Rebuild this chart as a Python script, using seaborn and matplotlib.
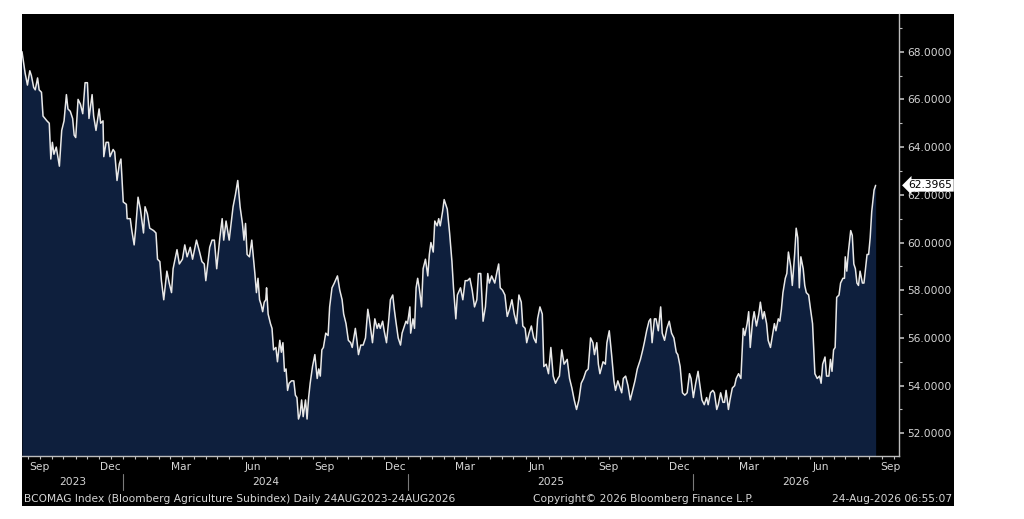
import numpy as np
import pandas as pd
import matplotlib
matplotlib.use("Agg")
import matplotlib.pyplot as plt
import seaborn as sns
from matplotlib.patches import Rectangle
from matplotlib.transforms import blended_transform_factory

# ---------------- data ----------------
start_date = "2023-08-24"
day_offsets = [
    0, 4, 7, 10, 12, 15, 17, 20, 22, 25, 27, 32, 35, 37, 39, 41, 44, 46, 48, 51, 54, 57, 59, 62, 65, 67, 69,
    72, 75, 78, 81, 84, 86, 90, 92, 95, 99, 101, 104, 105, 108, 111, 113, 117, 119, 122, 125, 127, 130, 134,
    135, 139, 141, 144, 146, 149, 152, 156, 158, 161, 164, 169, 172, 174, 177, 179, 182, 186, 189, 192, 194,
    199, 202, 206, 209, 212, 216, 219, 224, 228, 231, 234, 236, 241, 244, 247, 250, 254, 257, 259, 262, 266,
    271, 274, 277,
    280, 283, 285, 287, 289, 292, 295, 297, 299, 301, 303, 305, 307, 309, 311, 313, 314, 316, 319, 321, 323,
    326, 328, 331, 333, 335, 337, 339, 341, 343, 346, 349, 351, 353, 355, 357, 359, 361, 364, 366, 368, 370,
    373, 376, 379, 381, 383, 385, 387, 390, 393, 395, 398, 401, 405, 408, 411, 413, 416, 419, 422, 424, 428,
    430, 432, 435, 438, 441, 444, 446, 448, 450, 453, 456, 458, 460, 463, 465, 468, 471, 473, 476, 478, 480,
    483, 486, 488, 490, 493, 495, 498, 499, 502, 504, 506, 508, 510, 513, 515, 518, 521, 523, 525, 528, 530,
    533, 535, 537, 540, 542, 546, 549, 552, 554, 557, 559,
    563, 566, 569, 572, 575, 578, 581, 584, 586, 589, 592, 595, 598, 600, 603, 607, 610, 612, 614, 617, 620,
    623, 626, 629, 632, 635, 638, 641, 643, 646, 648, 651, 654, 657, 660, 662, 665, 668, 670, 673, 676, 679,
    682, 685, 688, 690, 693, 696, 700, 703, 706, 709, 712, 715, 718, 721, 724, 727, 730, 733, 735, 738, 740,
    742, 746, 749, 751, 754, 757, 760, 762, 765, 767, 770, 772, 775, 778, 781, 784, 787, 790, 794, 797, 799,
    802, 805, 807, 809, 812, 814, 817, 820, 822, 825, 828, 831, 834, 837, 840, 842, 845, 848, 851, 854, 857,
    859, 862, 865, 868, 870, 873, 876, 879, 881, 884, 887, 889, 892, 894, 897, 900, 902, 904, 907, 909, 912,
    915, 917, 920, 923, 926, 928, 931, 933, 935, 938, 940, 943, 946, 948, 951, 953, 956, 958, 961, 964, 966,
    968, 971, 973, 975, 977, 980, 982, 984, 987, 989, 992, 994, 996, 998, 1000, 1003, 1005, 1007, 1010, 1012,
    1015, 1018, 1021, 1024, 1026, 1028, 1031, 1033, 1036, 1038, 1040, 1042, 1044, 1046, 1049, 1051, 1054,
    1056, 1057, 1059, 1061, 1064, 1066, 1068, 1070, 1072, 1074, 1076, 1079, 1081, 1083, 1085, 1087, 1089,
    1091, 1094, 1096,
]
index_values = [
    68.0, 67.1, 66.6, 67.2, 67.0, 66.5, 66.4, 66.9, 66.4, 66.3, 65.3, 65.1, 65.0, 63.5, 64.2, 63.7, 64.0, 63.6,
    63.2, 64.7, 65.1, 66.2, 65.6, 65.5, 65.2, 64.5, 64.4,
    66.0, 65.8, 65.4, 66.7, 66.7, 65.2, 66.2, 65.3, 64.7, 65.6, 65.0, 65.1, 63.6, 64.2, 64.2, 63.6, 63.9, 63.8,
    62.6, 63.3, 63.5, 61.7, 61.6,
    61.0, 61.0, 60.5, 59.9, 60.6, 61.9, 61.4, 60.4, 61.5, 61.2, 60.6, 60.5, 60.4, 59.3, 59.2, 58.4, 57.6, 58.8,
    58.3, 57.9, 58.9,
    59.7, 59.1, 59.3, 59.9, 59.4, 59.8, 59.3, 60.1, 59.6, 59.2, 59.1, 58.4, 59.8, 60.1, 60.1, 58.9, 60.2, 61.0,
    60.1, 60.9, 60.1,
    61.5, 62.0, 62.6,
    61.5, 60.8, 60.1, 60.8, 59.5, 59.4, 60.1, 59.4, 58.7, 57.9, 58.5, 57.6, 57.4, 57.1, 57.5, 57.6, 58.1, 57.0,
    56.6, 56.4, 55.5,
    55.6, 55.0, 55.9, 55.4, 55.8, 54.6, 54.7, 53.8, 54.1, 54.2, 54.2, 53.6, 53.5, 52.6, 52.8, 53.4, 52.7, 53.4,
    52.6, 53.5, 54.1,
    54.8, 55.3, 54.3, 54.7, 54.4, 55.5, 55.6, 56.2, 56.1, 57.3, 58.1, 58.3, 58.6, 58.0, 57.6, 57.0, 56.6, 55.9,
    55.8, 55.6, 56.4,
    55.9, 55.3, 55.7, 55.7, 56.0, 57.2, 56.8, 56.3, 55.8, 56.8, 56.4, 56.6, 56.4, 56.7, 56.3, 55.8, 56.8, 57.6,
    57.8, 57.2, 56.7,
    56.0, 55.7, 56.2, 56.4, 56.7, 56.6, 57.3, 56.2, 56.8, 56.4, 58.1, 58.5, 58.1, 57.3, 58.9, 59.3, 58.6, 59.5,
    60.0, 59.6, 60.9,
    60.7, 61.0, 60.7, 61.3, 61.8, 61.4, 60.4, 59.2, 58.1, 56.8, 57.8,
    58.1, 57.6, 58.4, 58.4, 58.5, 58.0, 57.3, 57.6, 58.7, 58.7, 56.7, 57.3, 58.7, 58.3, 58.6, 58.3, 58.8, 59.1,
    58.1, 58.0, 57.8,
    56.9, 57.2, 57.6, 57.0, 56.6, 57.8, 57.5, 56.5, 56.4, 55.8, 56.2, 56.5, 56.0, 55.8, 56.8, 57.3, 57.0, 54.8,
    54.9, 54.5, 55.6,
    54.4, 54.1, 54.3, 54.4, 55.5, 54.9, 55.1, 54.3, 53.9, 53.4, 53.0, 53.4, 54.1, 54.3, 54.6, 54.7, 56.0, 55.8,
    55.3, 55.8, 54.9,
    54.5, 55.0, 54.9, 55.8, 56.3, 55.3, 54.2, 53.8, 54.2, 54.0, 53.7, 54.3, 54.4, 54.0, 53.4, 53.8, 54.2, 54.7,
    55.1, 55.5, 55.8,
    56.3, 56.7, 56.8, 55.8, 56.8, 56.8, 56.3, 57.3, 56.2, 55.9, 56.4, 56.7, 56.2, 56.0, 55.4, 55.3, 54.8, 53.7,
    53.6, 53.7, 54.5,
    54.3, 53.5, 54.1, 54.6, 54.1, 53.4, 53.2, 53.5, 53.2, 53.7, 53.8, 53.7, 53.0, 53.2, 53.7, 53.3, 53.3, 53.8,
    53.0, 53.4, 53.9,
    54.0, 54.3, 54.5, 54.3, 56.4, 56.1, 56.6, 57.1, 55.6, 56.7, 57.1, 56.5, 57.0, 57.5, 56.8, 57.1, 56.6, 55.9,
    55.6, 56.2, 56.6,
    56.3, 56.8, 56.7, 57.2, 57.9, 58.5, 58.7, 59.6, 59.0, 58.2, 59.5, 60.6, 60.2, 58.1, 59.4, 58.9, 58.2, 57.9,
    57.8, 57.3,
    56.6, 54.5, 54.3, 54.4, 54.1, 54.9, 55.2, 54.4, 54.4, 55.1, 54.6, 55.5, 55.6, 57.7, 57.8, 58.3, 58.5,
    58.5, 59.4, 58.8, 59.6, 60.5, 60.3, 59.1, 58.9, 58.3, 58.2, 58.8, 58.3, 58.3, 58.9, 59.5, 59.5, 60.2,
    61.3, 62.2, 62.3965,
]
last_value = 62.3965

y_ticks = [52, 54, 56, 58, 60, 62, 64, 66, 68]
y_minor_ticks = [53, 55, 57, 59, 61, 63, 65, 67, 69]
month_labels = ["Sep", "Dec", "Mar", "Jun", "Sep", "Dec", "Mar", "Jun", "Sep", "Dec", "Mar", "Jun", "Sep"]
month_label_dates = ["2023-09-15", "2023-12-15", "2024-03-15", "2024-06-15", "2024-09-15", "2024-12-15",
                     "2025-03-15", "2025-06-15", "2025-09-15", "2025-12-15", "2026-03-15", "2026-06-15",
                     "2026-09-12"]
year_labels = ["2023", "2024", "2025", "2026"]
year_boundaries = ["2024-01-01", "2025-01-01", "2026-01-01"]
x_start, x_end = "2023-08-24", "2026-09-23"
footer_left = "BCOMAG Index (Bloomberg Agriculture Subindex) Daily 24AUG2023-24AUG2026"
footer_mid = "Copyright\u00a9 2026 Bloomberg Finance L.P."
footer_right = "24-Aug-2026 06:55:07"

# ---------------- style ----------------
sns.set_theme(style="dark")
plt.rcParams["font.family"] = ["DejaVu Sans"]
TXT = "#d6d6d6"
LINE = "#e8e8e8"
FILL = "#0e1f3d"
AXC = "#bdbdbd"
FS = 7.7

W, H = 1024, 519
fig = plt.figure(figsize=(W / 100, H / 100), dpi=100, facecolor="white")
panel = Rectangle((22 / W, (H - 506) / H), (954 - 22) / W, (506 - 14) / H,
                  transform=fig.transFigure, fc="black", ec="none", zorder=-10)
fig.add_artist(panel)
ax = fig.add_axes([22 / W, (H - 456) / H, (899 - 22) / W, (456 - 14) / H])
ax.set_zorder(5)
ax.set_facecolor("black")

df = pd.DataFrame({
    "date": pd.Timestamp(start_date) + pd.to_timedelta(day_offsets, unit="D"),
    "value": index_values,
})
ymin, ymax = 51.05, 69.58
ax.fill_between(df["date"], df["value"], ymin, color=FILL, lw=0, zorder=1)
sns.lineplot(data=df, x="date", y="value", ax=ax, color=LINE, lw=1.1, zorder=2)

ax.set_xlim(pd.Timestamp(x_start), pd.Timestamp(x_end))
ax.set_ylim(ymin, ymax)
ax.set_xlabel("")
ax.set_ylabel("")
ax.grid(False)

for s in ["top", "left"]:
    ax.spines[s].set_visible(False)
for s in ["right", "bottom"]:
    ax.spines[s].set_visible(True)
    ax.spines[s].set_color(AXC)
    ax.spines[s].set_linewidth(1.0)

# y axis on the right
ax.yaxis.tick_right()
ax.set_yticks(y_ticks)
ax.set_yticklabels([f"{v:.4f}" for v in y_ticks])
ax.set_yticks(y_minor_ticks, minor=True)
ax.tick_params(axis="y", which="major", right=True, left=False, length=3.5, width=1.2,
               color=AXC, labelcolor=TXT, labelsize=FS, pad=2.5, direction="out")
ax.tick_params(axis="y", which="minor", right=True, left=False, length=2.2, width=0.8,
               color=AXC, direction="out")

# x axis ticks: 1st and 16th of each month
tick_dates = []
for d in pd.date_range("2023-09-01", "2026-09-01", freq="MS"):
    tick_dates += [d, d + pd.Timedelta(days=15)]
tick_dates = [d for d in tick_dates if pd.Timestamp(x_start) <= d <= pd.Timestamp(x_end)]
ax.set_xticks(tick_dates)
ax.set_xticklabels([""] * len(tick_dates))
ax.tick_params(axis="x", which="major", bottom=True, length=2.5, width=0.8, color=AXC, direction="out")
ax.set_xticks([], minor=True)

blend = blended_transform_factory(ax.transData, ax.transAxes)
ah = 456 - 14
for lab, d in zip(month_labels, month_label_dates):
    ax.text(pd.Timestamp(d), (456 - 467) / ah, lab, transform=blend, ha="center", va="center",
            color=TXT, fontsize=FS, clip_on=False)

bounds = [pd.Timestamp(x_start)] + [pd.Timestamp(b) for b in year_boundaries] + [pd.Timestamp(x_end)]
for i, lab in enumerate(year_labels):
    mid = bounds[i] + (bounds[i + 1] - bounds[i]) / 2
    ax.text(mid, (456 - 482) / ah, lab, transform=blend, ha="center", va="center",
            color=TXT, fontsize=FS, clip_on=False)
for b in year_boundaries:
    ax.plot([pd.Timestamp(b)] * 2, [(456 - 474) / ah, (456 - 490) / ah], transform=blend,
            color="#7a7a7a", lw=0.8, clip_on=False)

# last value tag
ax.annotate(f"{last_value:.4f}", xy=(1.0, last_value), xycoords=("axes fraction", "data"),
            xytext=(7, 0), textcoords="offset points", ha="left", va="center",
            fontsize=FS, color="black",
            bbox=dict(boxstyle="larrow,pad=0.12", fc="white", ec="none"),
            annotation_clip=False)

# footer
fy = (H - 499) / H
fig.text(24 / W, fy, footer_left, ha="left", va="center", color=TXT, fontsize=FS)
fig.text(533 / W, fy, footer_mid, ha="left", va="center", color=TXT, fontsize=FS)
fig.text(952 / W, fy, footer_right, ha="right", va="center", color=TXT, fontsize=FS)

fig.savefig("out.png", dpi=100, facecolor="white")
